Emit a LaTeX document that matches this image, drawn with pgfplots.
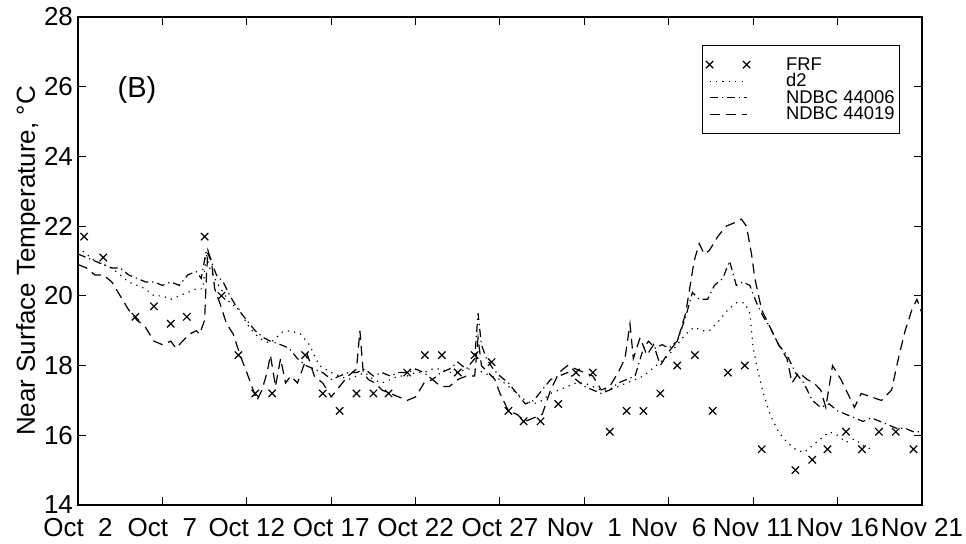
\documentclass[border=0pt]{standalone}
\usepackage{pgfplots}
\pgfplotsset{compat=1.18}
\usepackage{fontspec}
\setmainfont{Liberation Sans}
\pgfplotsset{
  linelegend/.style={legend image code/.code={\draw[##1] (0pt,0pt) -- (18.5pt,0pt); \path (37pt,0pt);}},
  marklegend/.style={legend image code/.code={\draw[black, line width=0.6pt] plot[only marks, mark=x, mark size=2.6pt] coordinates {(0pt,0pt) (18.5pt,0pt)}; \path (37pt,0pt);}},
}
\begin{document}
\begin{tikzpicture}
\useasboundingbox (-39pt,-19pt) rectangle (444pt,252.5pt);
\begin{axis}[
  at={(0,0)}, anchor=south west,
  scale only axis, width=422pt, height=244pt,
  xmin=0, xmax=50, ymin=14, ymax=28,
  xtick={0,5,...,50},
  xticklabels={Oct\ \ 2,Oct\ \ 7,Oct 12,Oct 17,Oct 22,Oct 27,Nov\ \ 1,Nov\ \ 6,Nov 11,Nov 16,Nov 21},
  ytick={14,16,...,28},
  tick align=inside,
  major tick length=4pt,
  axis line style={line width=0.6pt},
  every tick/.style={black, line width=0.5pt},
  /pgf/number format/assume math mode=true,
  ticklabel style={font=\fontsize{13}{14}\selectfont},
  xticklabel style={anchor=base, yshift=-15.8pt},
  yticklabel style={xshift=1pt},
  ylabel={Near Surface Temperature, °C},
  ylabel style={font=\fontsize{13}{14}\selectfont, at={(axis description cs:-0.059,0.5)}, anchor=center},
  legend style={at={(axis description cs:0.974,0.943)}, anchor=north east, draw=black, line width=0.5pt,
    font=\fontsize{9.2}{10}\selectfont, inner xsep=1.5pt, inner ysep=5.5pt,
    nodes={text height=6.5pt, text depth=1pt, inner ysep=0.4pt, inner xsep=1pt}},
  legend cell align=left,
]
\addplot[only marks, mark=x, mark size=2.6pt, mark options={line width=0.6pt}, black, marklegend]
coordinates {
(0.36,21.7) (1.5,21.1) (3.4,19.4) (4.5,19.7) (5.5,19.2) (6.45,19.4) (7.5,21.7) (8.5,20.0) (9.5,18.3) (10.5,17.2) (11.5,17.2) (13.45,18.3) (14.5,17.2) (15.5,16.7) (16.5,17.2) (17.5,17.2) (18.4,17.2) (19.5,17.8) (20.55,18.3) (21.56,18.3) (22.5,17.8) (23.5,18.3) (24.5,18.1) (25.5,16.7) (26.4,16.4) (27.4,16.4) (28.45,16.9) (29.5,17.8) (30.5,17.8) (31.5,16.1) (32.5,16.7) (33.5,16.7) (34.5,17.2) (35.5,18.0) (36.55,18.3) (37.6,16.7) (38.5,17.8) (39.5,18.0) (40.5,15.6) (42.5,15.0) (43.5,15.3) (44.4,15.6) (45.5,16.1) (46.45,15.6) (47.45,16.1) (48.45,16.1) (49.5,15.6)
};
\addlegendentry{FRF}
\addplot[black, line width=0.6pt, dash pattern=on 0.6pt off 2.6pt, linelegend]
coordinates {
(0,21.4) (0.5,21.2) (1,21.0) (1.5,20.9) (2,20.8) (2.5,20.6) (3,20.4) (3.5,20.3) (4,20.2) (4.5,20.0) (5,20.0) (5.5,19.9) (6,20.0) (6.5,20.1) (7,20.2) (7.4,20.2) (7.6,21.2) (7.8,20.8) (8.2,20.4) (8.6,20.1) (9,19.8) (9.6,19.6) (10,19.2) (10.5,18.9) (11,18.7) (11.4,18.65) (12.1,18.96) (12.6,19.0) (13.2,18.9) (13.7,18.6) (14.3,18.0) (15,17.8) (15.5,17.7) (16,17.6) (16.5,17.7) (17,17.8) (17.5,17.6) (18,17.5) (18.5,17.6) (19,17.7) (19.5,17.7) (20,17.8) (20.5,17.8) (21,17.9) (21.5,17.9) (22,17.8) (22.5,17.8) (23,17.9) (23.5,17.9) (24,17.8) (24.5,17.7) (25,17.6) (25.5,17.4) (26,17.2) (26.5,17.0) (27,16.9) (27.5,17.0) (28,17.2) (28.5,17.3) (29,17.4) (29.5,17.5) (30,17.5) (30.5,17.4) (31,17.3) (31.5,17.3) (32,17.4) (32.5,17.5) (33,17.6) (33.5,17.7) (34,17.9) (34.5,18.1) (35,18.3) (35.5,18.6) (36,18.9) (36.5,19.1) (37,19.0) (37.4,19.0) (38,19.3) (38.5,19.6) (39,19.8) (39.5,19.8) (39.8,19.5) (40,18.5) (40.3,17.8) (40.6,17.2) (41,16.6) (41.5,16.1) (42,15.8) (42.5,15.6) (43,15.5) (43.5,15.7) (44,15.9) (44.5,16.1) (45,16.0) (45.5,15.8) (46,15.9) (46.5,15.7) (47,15.6)
};
\addlegendentry{d2}
\addplot[black, line width=0.6pt, dash pattern=on 4pt off 2pt on 0.6pt off 2pt, linelegend]
coordinates {
(0,21.2) (0.5,21.1) (1,21.0) (1.5,20.9) (2,20.8) (2.5,20.8) (3,20.6) (3.5,20.5) (4,20.4) (4.5,20.4) (5,20.3) (5.5,20.4) (6,20.3) (6.5,20.6) (7,20.7) (7.3,20.5) (7.6,21.3) (7.8,21.1) (8.2,20.6) (8.6,20.4) (9,20.0) (9.5,19.6) (10,19.3) (10.5,19.0) (11,18.8) (11.4,18.7) (12,18.6) (12.5,18.5) (13,18.2) (13.5,18.0) (14,17.9) (14.5,17.8) (15,17.6) (15.5,17.7) (16,17.8) (16.5,17.8) (17,17.9) (17.5,17.7) (18,17.8) (18.5,17.7) (19,17.8) (19.5,17.8) (20,17.9) (20.5,17.8) (21,17.6) (21.5,17.8) (22,17.9) (22.5,18.1) (23,17.9) (23.5,18.2) (23.7,19.5) (23.9,18.6) (24.2,18.2) (24.6,17.9) (25,17.7) (25.5,17.5) (26,17.2) (26.5,16.9) (27,17.0) (27.5,17.3) (28,17.6) (28.5,17.7) (29,17.8) (29.5,17.6) (30,17.4) (30.5,17.3) (31,17.2) (31.5,17.3) (32,17.5) (32.5,17.6) (33,17.7) (33.5,18.5) (33.8,18.7) (34.2,18.5) (34.6,18.6) (35,18.5) (35.5,18.7) (36,19.4) (36.4,20.1) (36.8,19.9) (37.3,19.9) (37.7,20.3) (38.2,20.5) (38.6,21.0) (39,20.3) (39.4,20.4) (39.8,20.3) (40.2,19.8) (40.6,19.4) (41,19.1) (41.5,18.6) (42,18.3) (42.5,17.8) (43,17.5) (43.5,17.0) (44,16.8) (44.5,16.9) (45,16.7) (45.5,16.6) (46,16.5) (46.5,16.4) (47,16.5) (47.5,16.4) (48,16.3) (48.5,16.2) (49,16.2) (49.5,16.1) (50,16.1)
};
\addlegendentry{NDBC 44006}
\addplot[black, line width=0.6pt, dash pattern=on 5pt off 3pt, linelegend]
coordinates {
(0,20.9) (0.5,20.8) (1,20.6) (1.5,20.6) (2,20.4) (2.5,20.0) (3,19.6) (3.5,19.3) (4,19.1) (4.5,18.7) (5,18.6) (5.5,18.7) (5.8,18.5) (6.2,18.7) (6.6,18.9) (7,19.0) (7.2,18.9) (7.5,19.3) (7.6,20.5) (7.7,21.3) (7.9,21.0) (8.1,20.2) (8.4,19.8) (8.8,19.2) (9.2,18.9) (9.6,18.3) (10,17.8) (10.3,17.4) (10.6,17.0) (10.9,17.3) (11.2,17.8) (11.4,18.3) (11.7,17.4) (12.0,18.2) (12.3,17.5) (12.6,17.7) (13,17.5) (13.3,17.9) (13.6,18.3) (14,17.7) (14.5,17.5) (15,17.1) (15.5,17.4) (16,17.7) (16.5,17.9) (16.7,19.0) (16.9,17.8) (17.2,17.6) (17.6,17.5) (18,17.3) (18.5,17.2) (19,17.1) (19.5,17.0) (20,17.1) (20.5,17.5) (21,17.6) (21.5,17.4) (22,17.4) (22.5,17.6) (23,17.7) (23.5,17.7) (23.7,18.8) (23.9,18.0) (24.3,17.8) (24.7,17.6) (25,17.2) (25.5,16.7) (26,16.6) (26.5,16.4) (27,16.5) (27.5,16.6) (28,17.3) (28.5,17.8) (29,18.0) (29.5,17.9) (30,17.8) (30.5,17.7) (31,17.3) (31.5,17.4) (32,17.8) (32.4,18.2) (32.7,19.2) (32.9,18.2) (33.3,18.8) (33.7,18.3) (34.1,18.6) (34.5,18.0) (35,18.4) (35.5,18.7) (36,19.5) (36.3,20.4) (36.5,21.0) (36.8,21.5) (37.1,21.2) (37.4,21.3) (37.9,21.7) (38.4,22.0) (38.9,22.1) (39.3,22.2) (39.6,22.0) (39.9,21.2) (40.1,20.5) (40.5,19.6) (41,19.1) (41.5,18.6) (42,18.2) (42.3,17.5) (42.7,17.8) (43.2,17.6) (43.6,17.5) (44,17.3) (44.3,16.8) (44.7,18.0) (45.2,17.6) (45.6,17.2) (46,16.8) (46.4,17.2) (47,17.1) (47.6,17.0) (48.2,17.3) (48.6,18.2) (49,19.0) (49.4,19.6) (49.7,19.9) (50,19.5)
};
\addlegendentry{NDBC 44019}
\node[font=\fontsize{14.5}{16}\selectfont] at (axis cs:3.5,25.9) {(B)};
\end{axis}
\end{tikzpicture}
\end{document}
